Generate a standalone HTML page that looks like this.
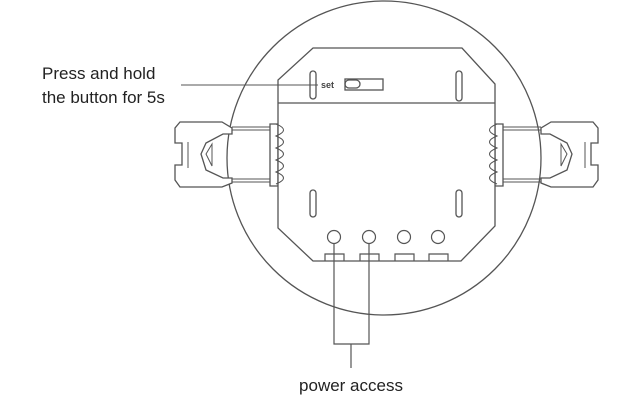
<!DOCTYPE html>
<html><head><style>body{margin:0;background:#fff}svg{display:block}</style></head><body>
<svg width="634" height="405" viewBox="0 0 634 405" xmlns="http://www.w3.org/2000/svg" fill="none" stroke="#555" stroke-width="1.3">
<circle cx="384" cy="158" r="157" fill="#fff"/>
<g id="clip">
<path d="M232 127 H278 M232 182 H278 M232 130 H278 M232 179 H278" stroke-width="1"/>
<path d="M180 122 H222 L232 128 V134 H223 L206 143 L201 154 L206 170 L223 178 H232 V183 L222 187 H180 L175 180 V165 H182 V143 H175 V128 Z" fill="#fff"/>
<path d="M212 144 L206 154 L212 166 Z M188 142 V168" stroke-width="1"/>
<path d="M270 124 H278 V186 H270 Z" fill="#fff"/>
</g>
<use href="#clip" transform="translate(773 0) scale(-1 1)"/>
<path d="M313 48 H462 L495 84 V226 L461 261 H313 L278 228 V80 Z" fill="#fff"/>
<path d="M278 103 H495"/>
<path d="M270 124 H278 V186 H270 Z M503 124 H495 V186 H503 Z" stroke-width="1"/>
<path d="M276 124 C286 128 286 132 276 136 C286 140 286 144 276 148 C286 152 286 156 276 160 C286 164 286 168 276 172 C286 176 286 180 276 184 M497 124 C487 128 487 132 497 136 C487 140 487 144 497 148 C487 152 487 156 497 160 C487 164 487 168 497 172 C487 176 487 180 497 184" stroke-width="1"/>
<rect x="310" y="71" width="6" height="28" rx="3"/>
<rect x="456" y="71" width="6" height="30" rx="3"/>
<rect x="310" y="190" width="6" height="27" rx="3"/>
<rect x="456" y="190" width="6" height="27" rx="3"/>
<rect x="345" y="79" width="38" height="11"/>
<rect x="345" y="80" width="15" height="8" rx="4"/>
<text x="321" y="88" font-family="Liberation Sans, sans-serif" font-size="9" font-weight="bold" fill="#444" stroke="none">set</text>
<g stroke-width="1.2">
<circle cx="334" cy="237" r="6.5"/><circle cx="369" cy="237" r="6.5"/><circle cx="404" cy="237" r="6.5"/><circle cx="438" cy="237" r="6.5"/>
<path d="M325 261 V254 H344 V261 M360 261 V254 H379 V261 M395 261 V254 H414 V261 M429 261 V254 H448 V261"/>
</g>
<path d="M181 85 H318" stroke-width="1"/>
<path d="M334 243 V344 H369 V243 M351 344 V368" stroke-width="1.2"/>
<g font-family="Liberation Sans, sans-serif" font-size="17" fill="#222" stroke="none">
<text x="42" y="79">Press and hold</text>
<text x="42" y="103">the button for 5s</text>
<text x="351" y="391" text-anchor="middle">power access</text>
</g>
</svg>
</body></html>
